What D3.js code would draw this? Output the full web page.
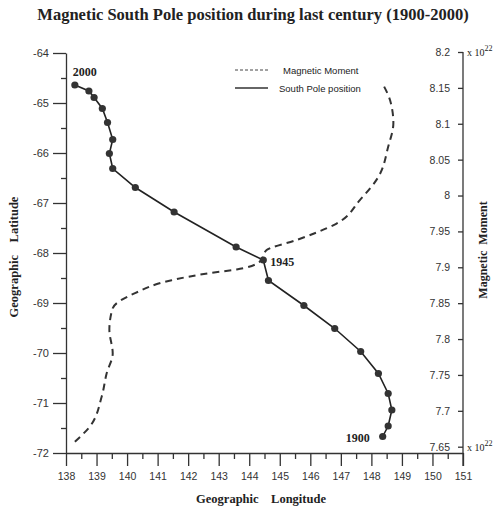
<!DOCTYPE html>
<html><head><meta charset="utf-8">
<script src="https://cdn.jsdelivr.net/npm/d3@7"></script>
<style>body{margin:0;background:#fff}svg{display:block}</style>
</head><body>
<script>
// Magnetic South Pole position (1900 -> 2000, every 5 years)
const years = [1900,1905,1910,1915,1920,1925,1930,1935,1940,1945,1950,1955,1960,1965,1970,1975,1980,1985,1990,1995,2000];
const poleLon = [148.37,148.55,148.67,148.55,148.23,147.65,146.80,145.79,144.63,144.46,143.57,141.54,140.27,139.53,139.42,139.53,139.36,139.19,138.92,138.75,138.29];
const poleLat = [-71.67,-71.46,-71.14,-70.81,-70.41,-69.97,-69.51,-69.05,-68.55,-68.14,-67.88,-67.18,-66.69,-66.31,-66.01,-65.73,-65.39,-65.11,-64.89,-64.76,-64.64];
// Magnetic moment curve (x10^22), traced against the longitude axis
const momentLon = [138.29,138.76,139.17,139.33,139.53,139.42,139.53,140.26,141.46,142.72,143.59,144.35,144.57,145.55,146.86,147.63,148.23,148.55,148.72,148.61,148.39];
const momentVal = [7.657,7.677,7.720,7.752,7.780,7.813,7.843,7.864,7.882,7.892,7.897,7.908,7.924,7.938,7.961,7.994,8.026,8.068,8.101,8.133,8.154];
const lonTicks = d3.range(138, 152, 1);
const latTicks = d3.range(-64, -73, -1);
const momentTicks = [7.65,7.7,7.75,7.8,7.85,7.9,7.95,8,8.05,8.1,8.15,8.2];
const labeledYears = [1900, 1945, 2000];

const W = 500, H = 511;
const svg = d3.select("body").append("svg").attr("width", W).attr("height", H);
const x = d3.scaleLinear().domain([138, 151]).range([66, 463]);
const y = d3.scaleLinear().domain([-64, -72]).range([53, 453]);
const y2 = d3.scaleLinear().domain([7.65, 8.2]).range([446.7, 52]);

const sans = "Liberation Sans, Arial, sans-serif";
const serif = "Liberation Serif, Times New Roman, serif";
const plain = d => String(+(+d).toFixed(2));

function styleAxis(size) {
  return g => {
    g.selectAll("path,line").attr("stroke", "#333").attr("stroke-width", 1.3);
    g.selectAll("text").attr("font-family", sans).attr("font-size", size).attr("fill", "#333");
  };
}

// left axis
svg.append("g").attr("transform", "translate(66,0)")
  .call(d3.axisLeft(y).tickValues(latTicks).tickSize(13).tickSizeOuter(0).tickPadding(4).tickFormat(plain))
  .call(styleAxis(11));
svg.append("g").attr("transform", "translate(66,0)")
  .call(d3.axisLeft(y).tickValues(d3.range(-64.5, -72, -1)).tickSize(5).tickFormat(""))
  .call(g => g.select(".domain").remove()).call(styleAxis(11));

// bottom axis
svg.append("g").attr("transform", "translate(0,453)")
  .call(d3.axisBottom(x).tickValues(lonTicks).tickSize(13).tickSizeOuter(0).tickPadding(7).tickFormat(plain))
  .call(styleAxis(10.5));
svg.append("g").attr("transform", "translate(0,453)")
  .call(d3.axisBottom(x).tickValues(d3.range(138.5, 151, 1)).tickSize(6).tickFormat(""))
  .call(g => g.select(".domain").remove()).call(styleAxis(10.5));

// right axis (ticks drawn on left side)
svg.append("g").attr("transform", "translate(463,0)")
  .call(d3.axisLeft(y2).tickValues(momentTicks).tickSize(5).tickSizeOuter(0).tickPadding(8).tickFormat(plain))
  .call(styleAxis(10.5))
  .call(g => g.select(".domain").attr("d", "M0,52V466"));

// x10^22 labels
[8.2, 7.65].forEach(v => {
  const t = svg.append("text").attr("x", 467).attr("y", y2(v) + 4)
    .attr("font-family", serif).attr("font-size", 10).attr("fill", "#222");
  t.append("tspan").text("x 10");
  t.append("tspan").attr("dy", -5).attr("font-size", 8).text("22");
});

// magnetic moment dashed curve
const mPts = momentLon.map((d, i) => [x(d), y2(momentVal[i])]);
svg.append("path").attr("d", d3.line().curve(d3.curveMonotoneY)(mPts))
  .attr("fill", "none").attr("stroke", "#333").attr("stroke-width", 2)
  .attr("stroke-dasharray", "7,5");

// pole position line
const pPts = poleLon.map((d, i) => [x(d), y(poleLat[i])]);
svg.append("path").attr("d", d3.line()(pPts))
  .attr("fill", "none").attr("stroke", "#222").attr("stroke-width", 1.6);
svg.selectAll("circle.pole").data(pPts).enter().append("circle")
  .attr("cx", d => d[0]).attr("cy", d => d[1]).attr("r", 3.6).attr("fill", "#333");

// year labels
const yearOffsets = {1900: [-37, 5], 1945: [7, 6], 2000: [-2, -9]};
labeledYears.forEach(yr => {
  const i = years.indexOf(yr);
  svg.append("text").attr("x", pPts[i][0] + yearOffsets[yr][0]).attr("y", pPts[i][1] + yearOffsets[yr][1])
    .attr("font-family", serif).attr("font-weight", "bold").attr("font-size", 12).attr("fill", "#222")
    .text(yr);
});

// legend
const lg = svg.append("g");
lg.append("line").attr("x1", 235).attr("x2", 268).attr("y1", 70).attr("y2", 70)
  .attr("stroke", "#444").attr("stroke-width", 1).attr("stroke-dasharray", "3,2");
lg.append("text").attr("x", 283).attr("y", 73.5).attr("font-family", sans).attr("font-size", 9.5)
  .attr("fill", "#222").text("Magnetic Moment");
lg.append("line").attr("x1", 235).attr("x2", 268).attr("y1", 88).attr("y2", 88)
  .attr("stroke", "#333").attr("stroke-width", 1.5);
lg.append("text").attr("x", 279).attr("y", 91.5).attr("font-family", sans).attr("font-size", 9.5)
  .attr("fill", "#222").text("South Pole position");

// titles
svg.append("text").attr("x", 253).attr("y", 20).attr("text-anchor", "middle")
  .attr("font-family", serif).attr("font-weight", "bold").attr("font-size", 16.5).attr("fill", "#222")
  .text("Magnetic South Pole position during last century (1900-2000)");
svg.append("text").attr("x", 261).attr("y", 503).attr("text-anchor", "middle")
  .attr("font-family", serif).attr("font-weight", "bold").attr("font-size", 12.5).attr("fill", "#222")
  .style("white-space", "pre").text("Geographic    Longitude");
svg.append("text").attr("transform", "translate(18,257) rotate(-90)").attr("text-anchor", "middle")
  .attr("font-family", serif).attr("font-weight", "bold").attr("font-size", 12.5).attr("fill", "#222")
  .style("white-space", "pre").text("Geographic    Latitude");
svg.append("text").attr("transform", "translate(487,250) rotate(-90)").attr("text-anchor", "middle")
  .attr("font-family", serif).attr("font-weight", "bold").attr("font-size", 12).attr("fill", "#222")
  .style("white-space", "pre").text("Magnetic  Moment");
</script>
</body></html>
